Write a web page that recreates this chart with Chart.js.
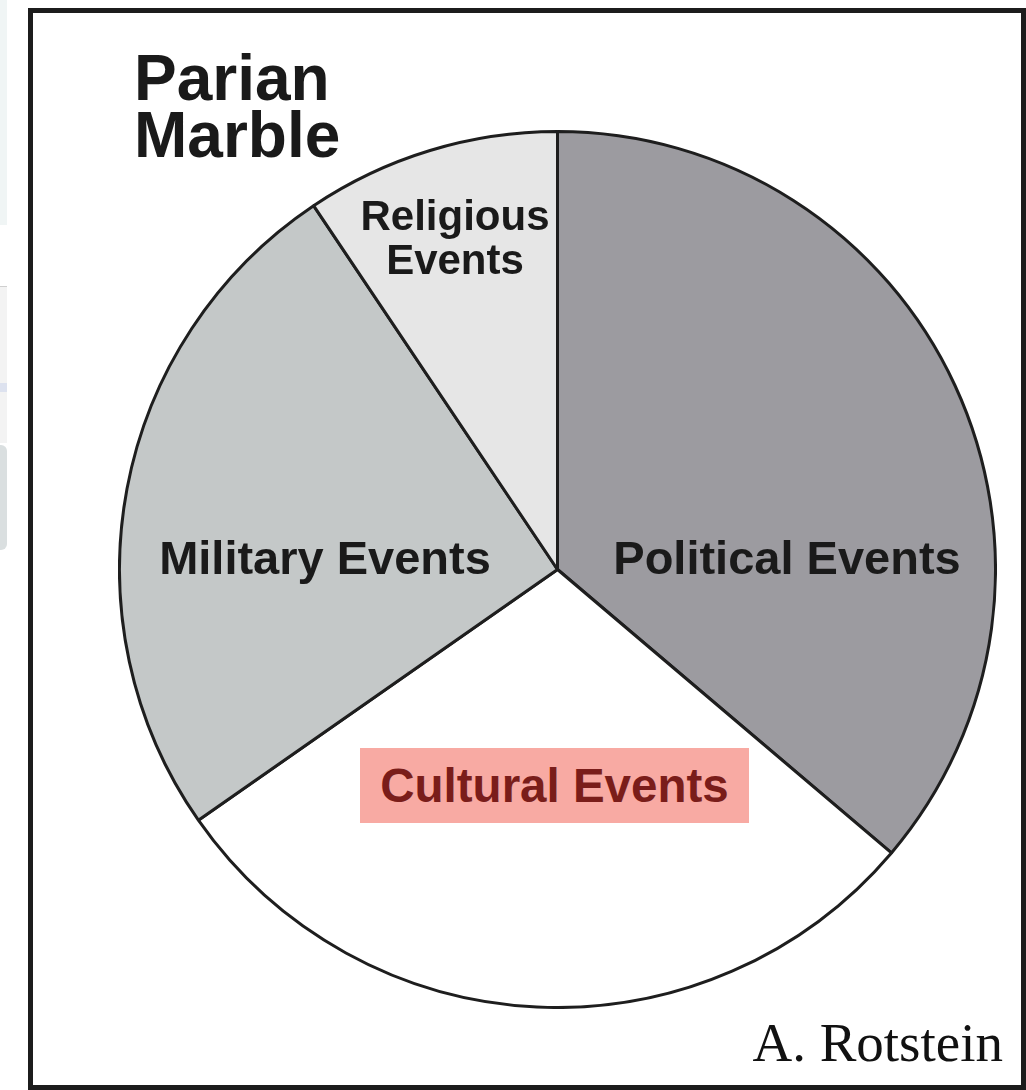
<!DOCTYPE html>
<html>
<head>
<meta charset="utf-8">
<script src="https://cdn.jsdelivr.net/npm/chart.js@4.4.1/dist/chart.umd.min.js"></script>
<style>
  html, body { margin: 0; padding: 0; background: #ffffff; }
  body { width: 1026px; height: 1090px; position: relative; overflow: hidden; font-family: "Liberation Sans", Arial, sans-serif; }
  .ui { position: absolute; left: 0; width: 7px; }
  #frame { position: absolute; left: 28px; top: 8px; width: 998px; height: 1082px; box-sizing: border-box; border: 5px solid #1c1c1c; }
  #pieWrap { position: absolute; left: 118px; top: 130px; width: 879px; height: 879px; }
  .lbl { position: absolute; font-weight: bold; color: #1a1a1a; white-space: nowrap; letter-spacing: 0px; }
  #title { left: 134px; top: 50px; font-size: 64px; line-height: 57px; letter-spacing: 0px; }
  #religious { left: 352px; top: 194px; width: 206px; text-align: center; font-size: 42px; line-height: 44px; }
  #military { left: 145px; top: 532px; width: 360px; text-align: center; font-size: 47px; line-height: 52px; }
  #political { left: 602px; top: 532px; width: 370px; text-align: center; font-size: 47px; line-height: 52px; }
  #cultural { left: 360px; top: 748px; width: 389px; height: 75px; background: #f8aaa3; color: #7a1d1a; text-align: center; font-size: 47.5px; line-height: 75px; }
  #credit { position: absolute; right: 23px; top: 1013px; font-family: "Liberation Serif", "DejaVu Serif", serif; font-size: 55px; line-height: 60px; color: #111; }
</style>
</head>
<body>
<div class="ui" style="top:0;height:225px;background:#f0f5f5;"></div>
<div class="ui" style="top:286px;height:1px;background:#cfcfcf;"></div>
<div class="ui" style="top:287px;height:96px;background:#f3f3f3;"></div>
<div class="ui" style="top:383px;height:9px;background:#dde2ef;"></div>
<div class="ui" style="top:392px;height:51px;background:#f3f3f3;"></div>
<div class="ui" style="top:445px;height:105px;background:#dadfe0;border-radius:0 6px 6px 0;"></div>

<div id="frame"></div>
<div id="pieWrap"><canvas id="pie" width="879" height="879"></canvas></div>

<div class="lbl" id="title">Parian<br>Marble</div>
<div class="lbl" id="religious">Religious<br>Events</div>
<div class="lbl" id="military">Military Events</div>
<div class="lbl" id="political">Political Events</div>
<div class="lbl" id="cultural">Cultural Events</div>
<div id="credit">A. Rotstein</div>

<script>
const categories = ["Political Events", "Cultural Events", "Military Events", "Religious Events"];
const shares = [36.2, 29.1, 25.3, 9.4];
const sliceColors = ["#9c9ba0", "#ffffff", "#c4c8c8", "#e6e6e6"];

new Chart(document.getElementById("pie"), {
  type: "pie",
  data: {
    labels: categories,
    datasets: [{
      data: shares,
      backgroundColor: sliceColors,
      borderColor: "#1e1e1e",
      borderWidth: 3
    }]
  },
  options: {
    responsive: false,
    animation: false,
    rotation: 0,
    layout: { padding: 0 },
    plugins: { legend: { display: false }, tooltip: { enabled: false }, title: { display: false } }
  }
});
</script>
</body>
</html>
